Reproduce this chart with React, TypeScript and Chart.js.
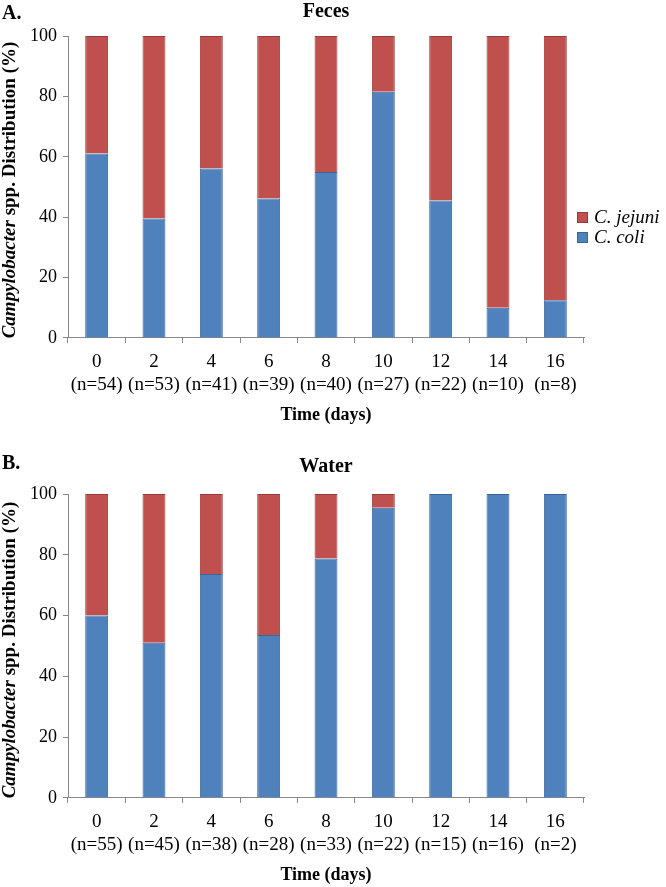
import React, { useEffect, useRef } from "react";
import { Chart, registerables } from "chart.js";

Chart.register(...registerables);

// ---- data ----
const days = ["0", "2", "4", "6", "8", "10", "12", "14", "16"];
const fecesN = [54, 53, 41, 39, 40, 27, 22, 10, 8];
const waterN = [55, 45, 38, 28, 33, 22, 15, 16, 2];
const fecesColi = [61.1, 39.6, 56.1, 46.2, 55.0, 81.5, 45.5, 10.0, 12.5];
const fecesJejuni = [38.9, 60.4, 43.9, 53.8, 45.0, 18.5, 54.5, 90.0, 87.5];
const waterColi = [60.0, 51.1, 73.7, 53.6, 78.8, 95.5, 100, 100, 100];
const waterJejuni = [40.0, 48.9, 26.3, 46.4, 21.2, 4.5, 0, 0, 0];
const seriesNames = ["C. jejuni", "C. coli"];
const panelLabels = ["A.", "B."];
const panelTitles = ["Feces", "Water"];
const xTitle = "Time (days)";

const FONT = '"Liberation Serif", "Times New Roman", serif';
const BLUE = "#4F81BD";
const BLUE_EDGE = "#3A6598";
const RED = "#C0504D";
const RED_EDGE = "#983B39";
const AXIS = "#888888";

type PanelProps = {
  title: string;
  coli: number[];
  jejuni: number[];
  n: number[];
  height: number;
  padTop: number;
  titlePadBottom: number;
  xTitlePadBottom: number;
};

function Panel(props: PanelProps) {
  const ref = useRef<HTMLCanvasElement | null>(null);
  useEffect(() => {
    if (!ref.current) return;
    const labels = days.map((d, i) => [d, `(n=${props.n[i]})`]);
    const chart = new Chart(ref.current, {
      type: "bar",
      data: {
        labels,
        datasets: [
          {
            label: seriesNames[1],
            data: props.coli,
            backgroundColor: BLUE,
            borderColor: BLUE_EDGE,
            borderWidth: 1,
            barPercentage: 0.4,
            categoryPercentage: 1,
          },
          {
            label: seriesNames[0],
            data: props.jejuni,
            backgroundColor: RED,
            borderColor: RED_EDGE,
            borderWidth: 1,
            barPercentage: 0.4,
            categoryPercentage: 1,
          },
        ],
      },
      options: {
        animation: false,
        responsive: false,
        maintainAspectRatio: false,
        layout: { padding: { left: 0, right: 82, top: props.padTop, bottom: 0 } },
        plugins: {
          legend: { display: false },
          tooltip: { enabled: false },
          title: {
            display: true,
            text: props.title,
            fullSize: false,
            color: "#000",
            font: { family: FONT, size: 20, weight: "bold", lineHeight: 1.2 },
            padding: { top: 0, bottom: props.titlePadBottom },
          },
        },
        scales: {
          x: {
            stacked: true,
            grid: {
              display: true,
              offset: true,
              drawOnChartArea: false,
              drawTicks: true,
              tickLength: 5,
              color: AXIS,
            },
            border: { color: AXIS },
            ticks: {
              color: "#000",
              font: { family: FONT, size: 19, lineHeight: 1.24 },
              padding: 7,
              maxRotation: 0,
              autoSkip: false,
            },
            title: {
              display: true,
              text: xTitle,
              color: "#000",
              font: { family: FONT, size: 18, weight: "bold", lineHeight: 1.2 },
              padding: { top: 0, bottom: props.xTitlePadBottom },
            },
          },
          y: {
            stacked: true,
            min: 0,
            max: 100,
            grid: {
              display: true,
              drawOnChartArea: false,
              drawTicks: true,
              tickLength: 5,
              color: AXIS,
            },
            border: { color: AXIS },
            ticks: {
              stepSize: 20,
              color: "#000",
              font: { family: FONT, size: 18 },
              padding: 6,
            },
            afterFit: (scale: any) => {
              scale.width = 68;
            },
          },
        },
      },
    });
    return () => chart.destroy();
  }, []);
  return <canvas ref={ref} width={666} height={props.height} style={{ display: "block" }} />;
}

function YTitle({ centerY }: { centerY: number }) {
  const w = 400;
  const h = 20;
  return (
    <div
      style={{
        position: "absolute",
        left: 9 - w / 2,
        top: centerY - h / 2,
        width: w,
        height: h,
        lineHeight: `${h}px`,
        textAlign: "center",
        whiteSpace: "nowrap",
        transform: "rotate(-90deg)",
        fontFamily: FONT,
        fontWeight: "bold",
        fontSize: 19,
        color: "#000",
      }}
    >
      <i>Campylobacter</i> spp. Distribution (%)
    </div>
  );
}

function PanelLabel({ text, top }: { text: string; top: number }) {
  return (
    <div
      style={{
        position: "absolute",
        left: 2,
        top,
        fontFamily: FONT,
        fontWeight: "bold",
        fontSize: 20,
        lineHeight: "20px",
        color: "#000",
      }}
    >
      {text}
    </div>
  );
}

function Legend() {
  const items = [
    { name: seriesNames[0], color: RED, edge: RED_EDGE },
    { name: seriesNames[1], color: BLUE, edge: BLUE_EDGE },
  ];
  return (
    <div style={{ position: "absolute", left: 577, top: 207 }}>
      {items.map((it) => (
        <div
          key={it.name}
          style={{
            display: "flex",
            alignItems: "center",
            height: 20,
            fontFamily: FONT,
            fontStyle: "italic",
            fontSize: 19,
            color: "#000",
            whiteSpace: "nowrap",
          }}
        >
          <span
            style={{
              display: "inline-block",
              width: 9,
              height: 9,
              background: it.color,
              border: `1px solid ${it.edge}`,
              marginRight: 6,
            }}
          />
          <span>{it.name}</span>
        </div>
      ))}
    </div>
  );
}

export default function App() {
  return (
    <div
      style={{
        position: "absolute",
        left: 0,
        top: 0,
        width: 666,
        height: 887,
        background: "#fff",
        overflow: "hidden",
      }}
    >
      <div style={{ position: "absolute", left: 0, top: 0 }}>
        <Panel
          title={panelTitles[0]}
          coli={fecesColi}
          jejuni={fecesJejuni}
          n={fecesN}
          height={430}
          padTop={0}
          titlePadBottom={12}
          xTitlePadBottom={4.3}
        />
      </div>
      <div style={{ position: "absolute", left: 0, top: 440 }}>
        <Panel
          title={panelTitles[1]}
          coli={waterColi}
          jejuni={waterJejuni}
          n={waterN}
          height={447}
          padTop={15}
          titlePadBottom={15}
          xTitlePadBottom={1.3}
        />
      </div>
      <PanelLabel text={panelLabels[0]} top={2} />
      <PanelLabel text={panelLabels[1]} top={452} />
      <YTitle centerY={190} />
      <YTitle centerY={650} />
      <Legend />
    </div>
  );
}
